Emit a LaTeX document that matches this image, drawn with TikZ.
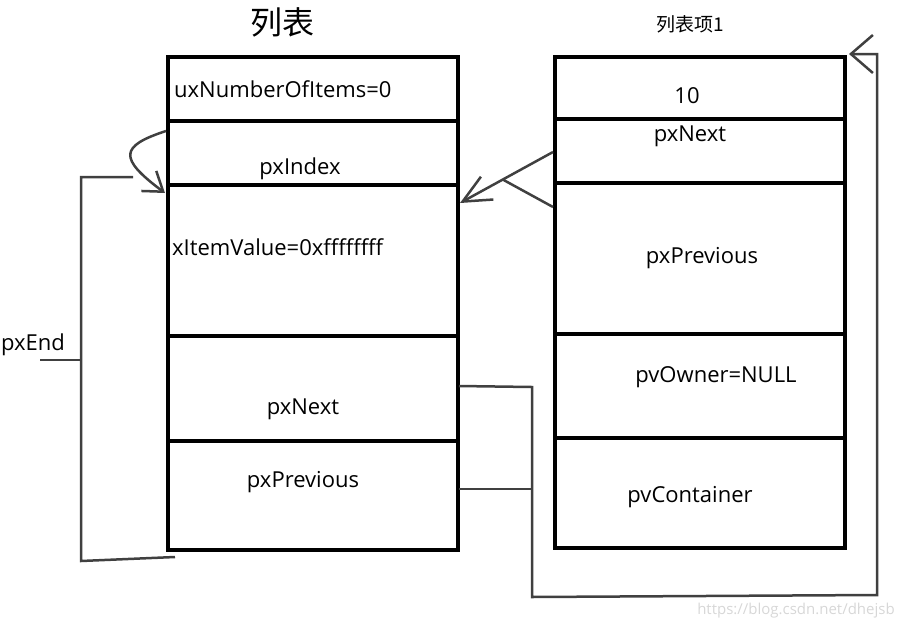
\documentclass[tikz,border=0pt]{standalone}
\usepackage{fontspec}
\setmainfont{Open Sans}
\newfontfamily\cjk{Noto Sans CJK SC}
\usetikzlibrary{arrows.meta,calc,positioning}
\definecolor{strich}{RGB}{64,64,64}
\definecolor{wasser}{RGB}{215,215,215}

\begin{document}
\begin{tikzpicture}[x=1pt, y=-1pt,
                      field/.style = {
                        draw, line width=4pt,
                        minimum width=290pt,
                        inner sep=0pt
                      },
                      label/.style = {
                        inner sep=0pt,
                        font=\fontsize{22}{24}\selectfont
                      },
                      link/.style = {
                        draw=strich, line width=2.5pt
                      },
                      tip/.style 2 args = {
                        -{Straight Barb[length=#1, width=#2]}
                      }]
    \useasboundingbox (0,0) rectangle (903,630);

    % the list
    \node(listCount)[field, minimum height=64pt] at (313, 89) {};
    \node(listIndex)[field, minimum height=64pt] at (313,153) {};
    \node(listValue)[field, minimum height=151pt] at (313,260.5) {};
    \node(listNext)[field, minimum height=105pt] at (313,388.5) {};
    \node(listPrev)[field, minimum height=109pt] at (313,495.5) {};
    \node(listTitle)[inner sep=0pt, font=\cjk\fontsize{32}{34}\selectfont] at (282,22) {列表};
    \node[label, anchor=west] at (174, 89) {uxNumberOfItems=0};
    \node[label] at (300,169) {pxIndex};
    \node[label, anchor=west] at (172,247) {xItemValue=0xffffffff};
    \node[label] at (303,409) {pxNext};
    \node[label] at (303,482) {pxPrevious};
    \node(endLabel)[label] at (33,345) {pxEnd};

    % the list item
    \node(itemValue)[field, minimum height=62pt] at (700, 88) {};
    \node(itemNext)[field, minimum height=64pt] at (700,151) {};
    \node(itemPrev)[field, minimum height=151pt] at (700,258.5) {};
    \node(itemOwner)[field, minimum height=104pt] at (700,386) {};
    \node(itemContainer)[field, minimum height=110pt] at (700,493) {};
    \node(itemTitle)[inner sep=0pt, font=\cjk\fontsize{19}{22}\selectfont] at (690,24) {列表项1};
    \node[label] at (687, 96) {10};
    \node[label] at (690,136) {pxNext};
    \node[label] at (702,258) {pxPrevious};
    \node[label] at (716,377) {pvOwner=NULL};
    \node[label] at (690,497) {pvContainer};

    \node(mark)[inner sep=0pt, text=wasser, font=\fontsize{15}{18}\selectfont] at (796,611) {https://blog.csdn.net/dhejsb};

    % pxIndex
    \coordinate (loopTail) at (166,131);
    \coordinate (loopTip) at (165,193);
    \draw[link, tip={18pt}{25pt}] (loopTail) .. controls (120,146) and (118,158) .. (loopTip);

    % pxEnd
    \coordinate (endStub) at (40,360);
    \coordinate (endBar) at (81,360);
    \coordinate (endTop) at (81,177);
    \coordinate (endTopTip) at (133,177);
    \coordinate (endLow) at (81,561);
    \coordinate (endLowTip) at (175,557);
    \draw[link] (endStub) -- (endBar);
    \draw[link] (endTopTip) -- (endTop) -- (endLow) -- (endLowTip);

    % item back to list
    \coordinate (itemNextTail) at (553,152);
    \coordinate (itemPrevTail) at (553,207);
    \coordinate (valueTip) at (460,203);
    \draw[link, tip={28pt}{26pt}] (itemNextTail) -- (valueTip);
    \draw[link] (itemPrevTail) -- ($(itemNextTail)!0.54!(valueTip)$);

    % list back to item
    \coordinate (nextStart) at (459,386);
    \coordinate (prevStart) at (459,489);
    \coordinate (busTop) at (532,387);
    \coordinate (busJoin) at (532,489);
    \coordinate (busLow) at (532,597);
    \coordinate (turnLow) at (877,595);
    \coordinate (turnTop) at (877,54);
    \coordinate (itemTip) at (849,54);
    \draw[link, tip={22pt}{38pt}] (nextStart) -- (busTop) -- (busLow) -- (turnLow) -- (turnTop) -- (itemTip);
    \draw[link] (prevStart) -- (busJoin);
\end{tikzpicture}
\end{document}
